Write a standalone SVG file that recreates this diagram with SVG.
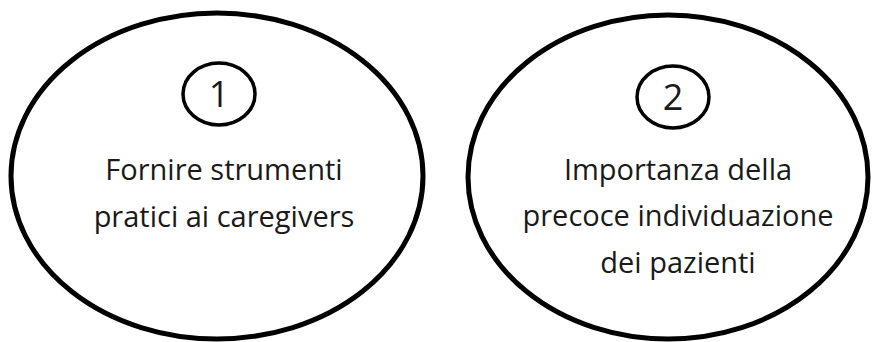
<svg xmlns="http://www.w3.org/2000/svg" width="872" height="342" viewBox="0 0 872 342">
<style>
.big{fill:#fff;stroke:#000;stroke-width:5}
.num{fill:#fff;stroke:#000;stroke-width:3.5}
text{font-family:"Open Sans",Lato,"Liberation Sans",sans-serif;fill:#1a1a1a;text-anchor:middle;font-variant-ligatures:none}
.t{font-size:29px}
.n{font-size:36px}
</style>
<rect width="872" height="342" fill="#fff"/>
<g id="node1">
<ellipse class="big" cx="217" cy="176" rx="206" ry="163"/>
<ellipse class="num" cx="219" cy="94" rx="36" ry="31"/>
<text class="n" x="219" y="107">1</text>
<text class="t" x="224" y="180">Fornire strumenti</text>
<text class="t" x="224" y="227">pratici ai caregivers</text>
</g>
<g id="node2">
<ellipse class="big" cx="668" cy="177" rx="200" ry="162"/>
<ellipse class="num" cx="673" cy="97" rx="36" ry="31"/>
<text class="n" x="673" y="110">2</text>
<text class="t" x="678" y="180">Importanza della</text>
<text class="t" x="678" y="226">precoce individuazione</text>
<text class="t" x="678" y="273">dei pazienti</text>
</g>
<g id="connectors"></g>
</svg>
